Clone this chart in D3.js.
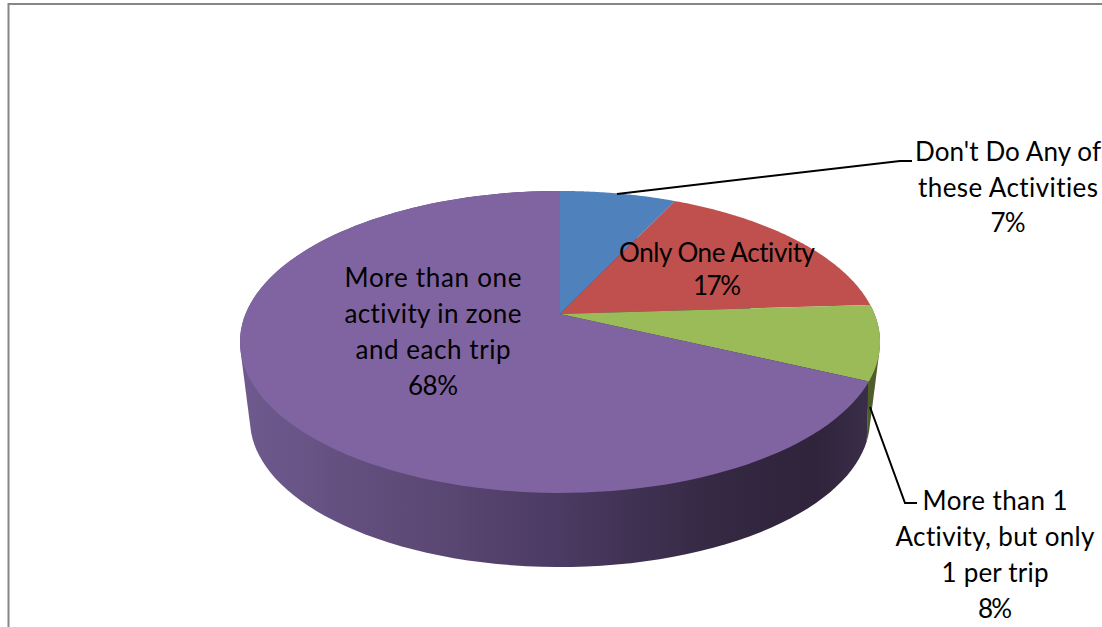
<!DOCTYPE html>
<html>
<head>
<meta charset="utf-8">
<style>
  html, body { margin: 0; padding: 0; background: #fff; overflow: hidden; }
  svg { display: block; }
  text { font-family: Lato, "Open Sans", sans-serif; font-size: 26px; fill: #000; text-anchor: middle; font-variant-ligatures: none; }
</style>
<script src="https://cdn.jsdelivr.net/npm/d3@7/dist/d3.min.js"></script>
</head>
<body>
<svg id="chart" width="1102" height="627"></svg>
<script>
// Activity shares, clockwise from twelve o'clock
const categories = ["Don't Do Any of these Activities", "Only One Activity", "More than 1 Activity, but only 1 per trip", "More than one activity in zone and each trip"];
const shares = [7, 17, 8, 68];
const topColors = ["#4f81bd", "#c0504d", "#9bbb59", "#8064a2"];
const wallColors = ["#3a5f8c", "#8e3b39", "#4d5e2b", "url(#wallShade)"];

const labelLines = [
  ["Don't Do Any of", "these Activities", "7%"],
  ["Only One Activity", "17%"],
  ["More than 1", "Activity, but only", "1 per trip", "8%"],
  ["More than one", "activity in zone", "and each trip", "68%"]
];
// Set width of each label line, so the wrapped blocks keep their measure
const labelWidths = [
  [186, 180, 35],
  [196, 48],
  [145, 199, 107, 34],
  [177, 177, 155, 50]
];
// Centre x, first baseline and line step of each label block
const labelAnchors = [[1008, 161, 35.6], [717, 262, 33], [995, 510, 36], [433, 287, 36]];
const leaderLines = [
  [[617, 194], [900, 161], [912, 161]],
  [[870, 407], [905, 503], [917, 503]]
];

const svg = d3.select("#chart");
const W = 1102, H = 627;
const cx = 560;

// Tilted-disc projection: the far rim shrinks, so the hub sits above the ellipse centre
function projector(hubY, tilt, spanX, spanY) {
  return a => {
    const w = 1 + tilt * Math.cos(a);
    return [cx + spanX * Math.sin(a) / w, hubY - spanY * Math.cos(a) / w];
  };
}
const hubY = 314;
const topTilt = 0.185;
const rimTop = projector(hubY, topTilt, 314.5, 145.8);
// The lower rim is a little smaller and more strongly foreshortened
const rimBottom = projector(375.9, 0.3, 295.7, 133.8);
// Rim angle of the rightmost point; the wall only shows past it
const frontStart = Math.acos(-topTilt);

const pie = d3.pie().value(d => d).sort(null);
const arcs = pie(shares);
const line = d3.line();
const sweep = (a0, a1, fn) => d3.range(0, 121).map(i => fn(a0 + (a1 - a0) * i / 120));

// Horizontal shading of the outer wall
const grad = svg.append("defs").append("linearGradient")
  .attr("id", "wallShade").attr("gradientUnits", "userSpaceOnUse")
  .attr("x1", 240).attr("x2", 880).attr("y1", 0).attr("y2", 0);
[[0, "#6e5a8e"], [0.25, "#5f4b78"], [0.5, "#4b3a62"], [0.75, "#342842"], [0.9, "#30243c"], [1, "#3c2f4c"]]
  .forEach(([o, c]) => grad.append("stop").attr("offset", o).attr("stop-color", c));

// Frame (open on the right and bottom edges of the page)
svg.append("path")
  .attr("d", d3.line()([[8.5, H], [8.5, 4], [W, 4]]))
  .attr("fill", "none").attr("stroke", "#868686").attr("stroke-width", 2);

// Outer walls go underneath, last slice first; each is the hull of its two rim arcs,
// which also gives the straight silhouette edges between the rims
const walls = arcs.map((d, i) => ({ d, i })).filter(({ d }) => d.endAngle > frontStart).reverse();
svg.append("g").selectAll("path").data(walls).join("path")
  .attr("d", ({ d }) => line(d3.polygonHull(
    sweep(d.startAngle, d.endAngle, rimTop).concat(sweep(Math.max(d.startAngle, frontStart), d.endAngle, rimBottom))
  )) + "Z")
  .attr("fill", ({ i }) => wallColors[i]);

// Top face
svg.append("g").selectAll("path").data(arcs).join("path")
  .attr("d", d => line([[cx, hubY]].concat(sweep(d.startAngle, d.endAngle, rimTop))) + "Z")
  .attr("fill", (d, i) => topColors[i]);

// Leader lines
svg.append("g").selectAll("path").data(leaderLines).join("path")
  .attr("d", d => line(d)).attr("fill", "none").attr("stroke", "#000").attr("stroke-width", 2);

// Data labels, one text element per wrapped line
const labels = svg.append("g").selectAll("g").data(labelLines).join("g")
  .attr("aria-label", (d, i) => categories[i]);
labels.selectAll("text").data((d, i) => d.map((t, j) => ({ t, j, i }))).join("text")
  .attr("x", d => labelAnchors[d.i][0])
  .attr("y", d => labelAnchors[d.i][1] + d.j * labelAnchors[d.i][2])
  .attr("textLength", d => labelWidths[d.i][d.j])
  .attr("lengthAdjust", "spacing")
  .text(d => d.t);
</script>
</body>
</html>
